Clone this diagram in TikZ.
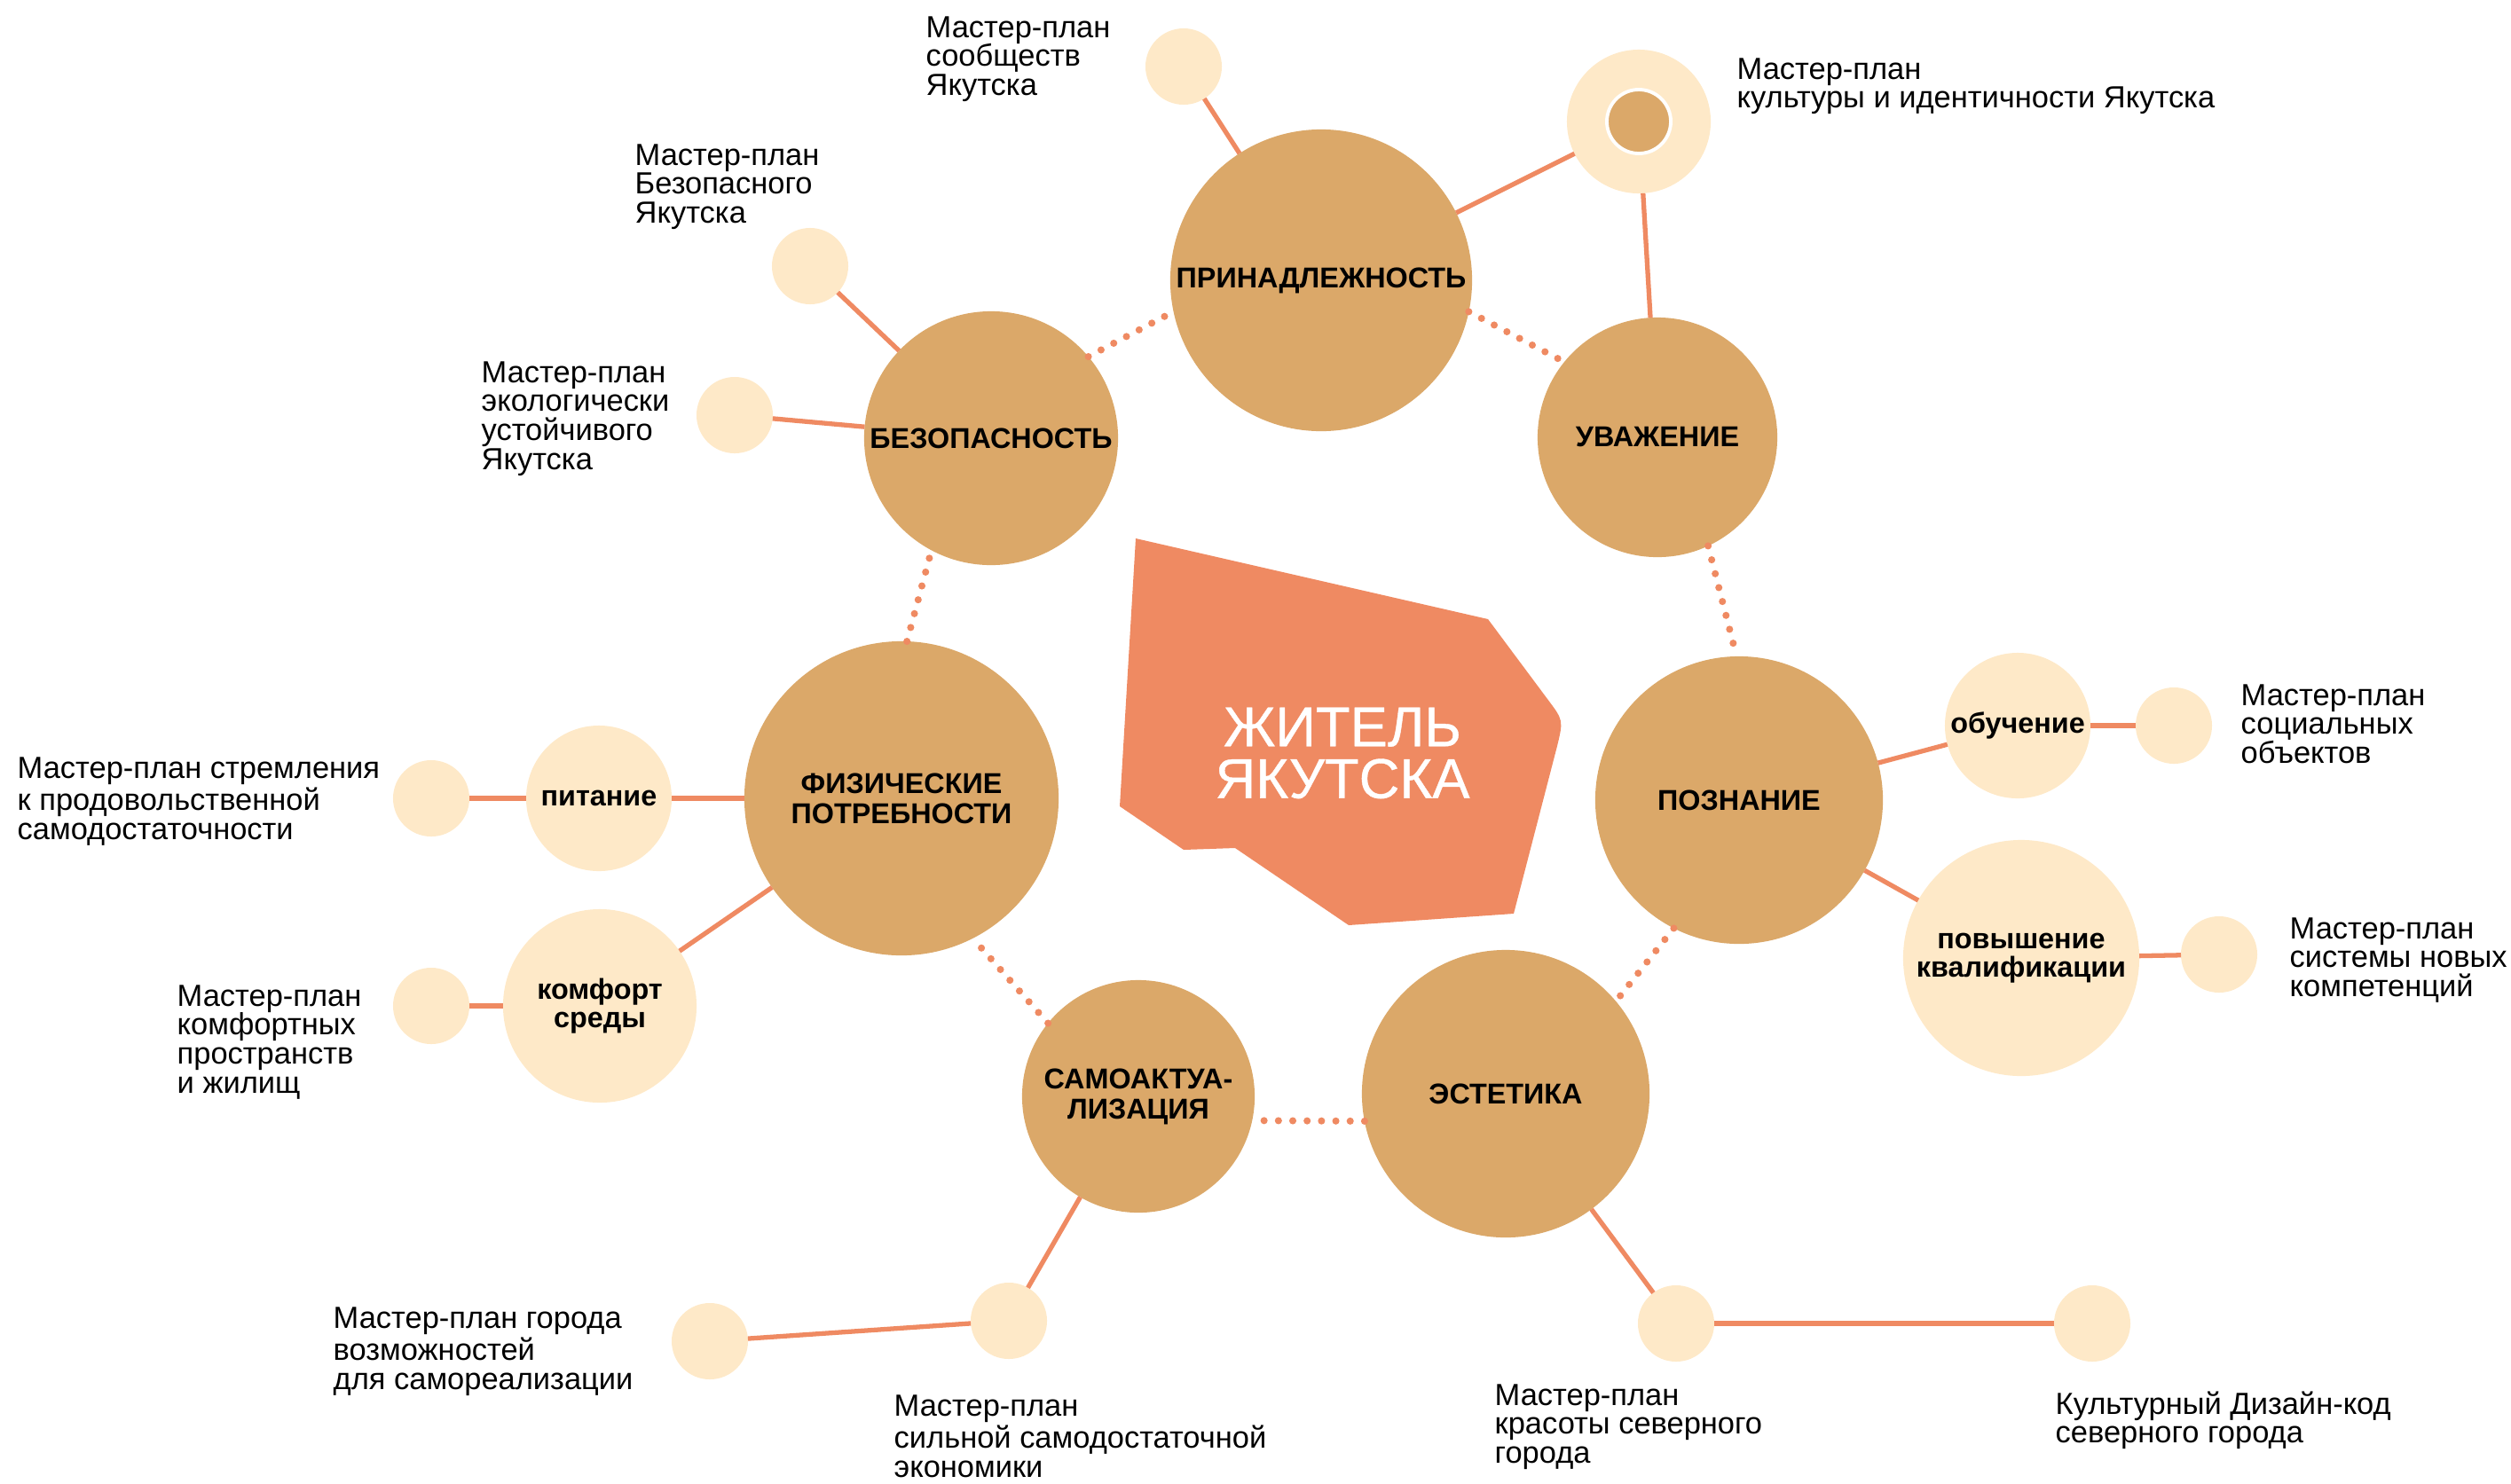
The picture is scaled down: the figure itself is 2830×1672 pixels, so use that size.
\documentclass[tikz,border=0pt]{standalone}
\usepackage{fontspec}
\setmainfont{Liberation Sans}
\usetikzlibrary{positioning,calc}
\definecolor{gold}{HTML}{DBA869}
\definecolor{cream}{HTML}{FEE9C8}
\definecolor{coral}{HTML}{EF8A62}
\tikzset{
	bigc/.style = {
		circle,
		fill=gold,
		minimum size=#1,
		inner sep=0pt,
		outer sep=0pt,
		align=center,
		font=\bfseries\fontsize{9.2}{9.7}\selectfont
	},
	midc/.style = {
		circle,
		fill=cream,
		minimum size=#1,
		inner sep=0pt,
		outer sep=0pt,
		align=center,
		font=\bfseries\fontsize{9.2}{8.9}\selectfont
	},
	leafc/.style = {
		circle,
		fill=cream,
		minimum size=0.86cm,
		inner sep=0pt,
		outer sep=0pt
	},
	link/.style = {
		draw=coral,
		line width=1.5pt
	},
	dotlink/.style = {
		draw=coral,
		line width=2.3pt,
		line cap=round,
		dash pattern=on 0pt off 4.6pt
	},
	note/.style = {
		anchor=north west,
		inner sep=0pt,
		align=left,
		font=\fontsize{9.8}{9.25}\selectfont
	}
}
\begin{document}
\begin{tikzpicture}[x=0.01cm, y=-0.01cm]
		\useasboundingbox (0,0) rectangle (2830,1672);
		
		% --- Центральная фигура ---
		\fill[coral] (1280,607) -- (1677,698) -- (1744,788) .. controls (1762,812) .. (1755,841)
		-- (1706,1030) -- (1520,1043) -- (1392,956) -- (1334,958) -- (1262,909) -- cycle;
		\node[text=white, align=center, inner sep=0pt,
		font=\addfontfeature{FakeBold=0.6}\fontsize{18}{16.6}\selectfont]
		(centre) at (1513,849) {ЖИТЕЛЬ\\ЯКУТСКА};
		
		% --- Основные круги ---
		\node[bigc=3.40cm] (prin) at (1489,316) {ПРИНАДЛЕЖНОСТЬ};
		\node[bigc=2.86cm] (bez) at (1117,494) {БЕЗОПАСНОСТЬ};
		\node[bigc=2.70cm] (uvazh) at (1868,493) {УВАЖЕНИЕ};
		\node[bigc=3.24cm] (pozn) at (1960,902) {ПОЗНАНИЕ};
		\node[bigc=3.24cm] (estet) at (1697,1233) {ЭСТЕТИКА};
		\node[bigc=2.62cm] (samo) at (1283,1236) {САМОАКТУА-\\ЛИЗАЦИЯ};
		\node[bigc=3.54cm] (phys) at (1016,900) {ФИЗИЧЕСКИЕ\\ПОТРЕБНОСТИ};
		
		% --- Промежуточные круги ---
		\node[midc=1.64cm] (pit) at (675,900) {питание};
		\node[midc=2.18cm] (komf) at (676,1134) {комфорт\\среды};
		\node[midc=1.64cm] (obuch) at (2274,818) {обучение};
		\node[midc=2.66cm] (povysh) at (2278,1080) {повышение\\квалификации};
		\node[midc=1.62cm] (cult) at (1847,137) {};
		\node[circle, fill=gold, draw=white, line width=1.1pt, minimum size=0.72cm,
		inner sep=0pt] (cultdot) at (cult.center) {};
		
		% --- Малые круги ---
		\node[leafc] (s1) at (1334,75) {};
		\node[leafc] (s2) at (913,300) {};
		\node[leafc] (s3) at (828,468) {};
		\node[leafc] (s4) at (486,900) {};
		\node[leafc] (s5) at (486,1134) {};
		\node[leafc] (s6) at (2450,818) {};
		\node[leafc] (s7) at (2501,1076) {};
		\node[leafc] (s8) at (1137,1489) {};
		\node[leafc] (s9) at (800,1512) {};
		\node[leafc] (s10) at (1889,1492) {};
		\node[leafc] (s11) at (2358,1492) {};
		
		% --- Подписи ---
		\node[note] (l1) at (1043,18) {Мастер-план\\сообществ\\Якутска};
		\node[note] (l2) at (715,162) {Мастер-план\\Безопасного\\Якутска};
		\node[note] (l3) at (542,407) {Мастер-план\\экологически\\устойчивого\\Якутска};
		\node[note] (lcult) at (1957,65) {Мастер-план\\культуры и идентичности Якутска};
		\node[note] (l4) at (19,853) {Мастер-план стремления\\к продовольственной\\самодостаточности};
		\node[note] (l5) at (199,1110) {Мастер-план\\комфортных\\пространств\\и жилищ};
		\node[note] (l6) at (2525,771) {Мастер-план\\социальных\\объектов};
		\node[note] (l7) at (2580,1034) {Мастер-план\\системы новых\\компетенций};
		\node[note] (l9) at (375,1473) {Мастер-план города\\возможностей\\для самореализации};
		\node[note] (l8) at (1007,1572) {Мастер-план\\сильной самодостаточной\\экономики};
		\node[note] (l10) at (1684,1560) {Мастер-план\\красоты северного\\города};
		\node[note] (l11) at (2316,1568) {Культурный Дизайн-код\\северного города};
		
		% --- Сплошные связи ---
		\draw[link] (prin) -- (s1);
		\draw[link] (prin) -- (cult);
		\draw[link] (cult) -- (uvazh);
		\draw[link] (bez) -- (s2);
		\draw[link] (bez) -- (s3);
		\draw[link] (phys) -- (pit);
		\draw[link] (pit) -- (s4);
		\draw[link] (phys) -- (komf);
		\draw[link] (komf) -- (s5);
		\draw[link] (samo) -- (s8);
		\draw[link] (s8) -- (s9);
		\draw[link] (estet) -- (s10);
		\draw[link] (s10) -- (s11);
		\draw[link] (pozn) -- (obuch);
		\draw[link] (obuch) -- (s6);
		\draw[link] (pozn) -- (povysh);
		\draw[link] (povysh) -- (s7);
		
		% --- Пунктирное кольцо ---
		\draw[dotlink] (bez.40) -- (prin.192);
		\draw[dotlink] (prin.348) -- (uvazh.141);
		\draw[dotlink] (uvazh.295) -- (pozn.91);
		\draw[dotlink] (pozn.243) -- (estet.40);
		\draw[dotlink] (estet.191) -- (samo.348);
		\draw[dotlink] (samo.141) -- (phys.297);
		\draw[dotlink] (phys.88) -- (bez.242);
		
	\end{tikzpicture}
\end{document}
